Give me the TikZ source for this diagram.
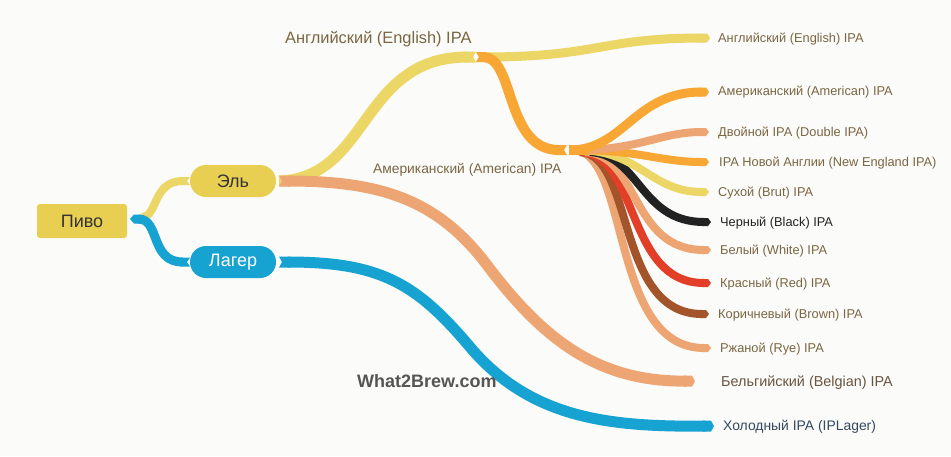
\documentclass[tikz,border=0pt]{standalone}
\usepackage{fontspec}
\setmainfont{Liberation Sans}
\usetikzlibrary{arrows.meta}
\definecolor{bgc}{HTML}{FBFBF9}
\definecolor{cyel}{HTML}{EBD666}
\definecolor{nyel}{HTML}{E8CF52}
\definecolor{corg}{HTML}{F8A634}
\definecolor{csal}{HTML}{EDA673}
\definecolor{cblu}{HTML}{17A3D2}
\definecolor{cblk}{HTML}{222222}
\definecolor{cred}{HTML}{E23E28}
\definecolor{cbrn}{HTML}{A3542A}
\definecolor{ltxt}{HTML}{7A6642}
\definecolor{btxt}{HTML}{6A5440}
\definecolor{htxt}{HTML}{34495E}
\definecolor{wtxt}{HTML}{555555}
\begin{document}
\begin{tikzpicture}[x=1pt,y=-1pt,
  rib/.style={line width=#1, line join=round, {Triangle Cap[reversed,length=3pt]}-{Triangle Cap[length=3pt]}},
  lbl/.style={anchor=west, inner sep=0pt, text=ltxt, yshift=-1.5pt, font=\fontsize{12.8}{14}\selectfont},
  pill/.style={rounded corners=16pt, minimum width=86pt, minimum height=32pt, inner sep=0pt, font=\fontsize{18}{20}\selectfont}]
\fill[bgc] (0,0) rectangle (951,456);
\useasboundingbox (0,0) rectangle (951,456);

% coordinates
\coordinate (pr) at (130,219);
\coordinate (er) at (279,181);
\coordinate (lr) at (279,262);
\coordinate (el) at (190,181);
\coordinate (ll) at (190,262);
\coordinate (eng) at (476,57);
\coordinate (amj) at (567,150);
\coordinate (tEn) at (710,38);
\coordinate (tAm) at (709,92);
\coordinate (tDb) at (709,132);
\coordinate (tNE) at (709,162);
\coordinate (tBr) at (709,192);
\coordinate (tBk) at (711,222);
\coordinate (tWh) at (711,250);
\coordinate (tRd) at (711,283);
\coordinate (tBn) at (709,314);
\coordinate (tRy) at (711,348);
\coordinate (tBg) at (695,381);
\coordinate (tHo) at (714,426);
\coordinate (bgm) at (487,265);
\coordinate (hom) at (470,347);

% ribbons
\draw[cyel, line width=8pt, line join=round, -{Triangle Cap[reversed,length=3pt]}] (pr) ++(12,-2) .. controls (158,217) and (152,181) .. (el);
\draw[cblu, line width=9pt, {Triangle Cap[length=4pt]}-{Triangle Cap[reversed,length=3pt]}] (pr) .. controls (160,219) and (150,262) .. (ll);

\draw[cyel, line width=11pt, -{Triangle Cap[reversed,length=3pt]}] (er) .. controls (370,178) and (360,57) .. (eng);
\draw[cyel, rib=9pt] (eng) .. controls (600,57) and (600,38) .. (tEn);
\draw[corg, line width=10pt, {Triangle Cap[reversed,length=3pt]}-{Triangle Cap[reversed,length=3pt]}] (eng) .. controls (515,58) and (505,150) .. (amj);

% American IPA branches (back to front)
\draw[csal, line width=8pt, -{Triangle Cap[length=3pt]}] (amj) ++(8,0) .. controls (630,155) and (610,348) .. (tRy);
\draw[cbrn, line width=8pt, -{Triangle Cap[length=3pt]}] (amj) ++(13,2) .. controls (635,155) and (615,314) .. (tBn);
\draw[cred, line width=8pt, -{Triangle Cap[length=3pt]}] (amj) ++(13,2) .. controls (640,155) and (625,283) .. (tRd);
\draw[csal, line width=8pt, -{Triangle Cap[length=3pt]}] (amj) ++(18,2) .. controls (640,155) and (630,250) .. (tWh);
\draw[cblk, line width=8pt, -{Triangle Cap[length=3pt]}] (amj) ++(23,2) .. controls (640,155) and (640,222) .. (tBk);
\draw[cyel, line width=8pt, -{Triangle Cap[length=3pt]}] (amj) ++(10,0) .. controls (640,150) and (650,192) .. (tBr);
\draw[corg, line width=8pt, -{Triangle Cap[length=3pt]}] (amj) ++(8,0) .. controls (640,150) and (660,162) .. (tNE);
\draw[csal, line width=8pt, -{Triangle Cap[length=3pt]}] (amj) ++(10,0) .. controls (640,150) and (660,132) .. (tDb);
\draw[corg, line width=9pt, -{Triangle Cap[length=3pt]}] (amj) ++(5,0) .. controls (625,148) and (635,92) .. (tAm);
\fill[corg] (amj) ++(2,-5) rectangle ++(20,10);

% long ribbons
\draw[csal, rib=11pt] (er) .. controls (380,181) and (437,199) .. (bgm) .. controls (545,342) and (600,382) .. (tBg);
\draw[cblu, rib=11pt] (lr) .. controls (380,262) and (416,283) .. (hom) .. controls (531,419) and (610,427) .. (tHo);

% nodes
\node[fill=nyel, rounded corners=3pt, minimum width=90pt, minimum height=34pt, inner sep=0pt, font=\fontsize{18}{20}\selectfont, text=black!80] (pivo) at (82,221) {Пиво};
\node[pill, fill=nyel, text=black!80] (ale) at (233,181) {Эль};
\node[pill, fill=cblu, text=white] (lager) at (233,262) {Лагер};

% middle labels
\node[lbl, font=\fontsize{16.4}{18}\selectfont] (lEngM) at (285,38) {Английский (English) IPA};
\node[lbl, font=\fontsize{13.8}{15}\selectfont] (lAmM) at (373,168) {Американский (American) IPA};
\node[font=\bfseries\fontsize{18}{20}\selectfont, text=wtxt, anchor=west, inner sep=0pt, yshift=-1.5pt] (w2b) at (357,380) {What2Brew.com};

% right labels
\node[lbl] (lEn) at (718,38) {Английский (English) IPA};
\node[lbl] (lAm) at (718,91) {Американский (American) IPA};
\node[lbl] (lDb) at (718,132) {Двойной IPA (Double IPA)};
\node[lbl] (lNE) at (719,162) {IPA Новой Англии (New England IPA)};
\node[lbl] (lBr) at (718,192) {Сухой (Brut) IPA};
\node[lbl, text=cblk] (lBk) at (720,222) {Черный (Black) IPA};
\node[lbl] (lWh) at (720,250) {Белый (White) IPA};
\node[lbl] (lRd) at (720,283) {Красный (Red) IPA};
\node[lbl] (lBn) at (718,314) {Коричневый (Brown) IPA};
\node[lbl] (lRy) at (720,348) {Ржаной (Rye) IPA};
\node[lbl, text=btxt, font=\fontsize{14.4}{16}\selectfont] (lBg) at (721,381) {Бельгийский (Belgian) IPA};
\node[lbl, text=htxt, font=\fontsize{13.9}{15}\selectfont] (lHo) at (723,425) {Холодный IPA (IPLager)};
\end{tikzpicture}
\end{document}
